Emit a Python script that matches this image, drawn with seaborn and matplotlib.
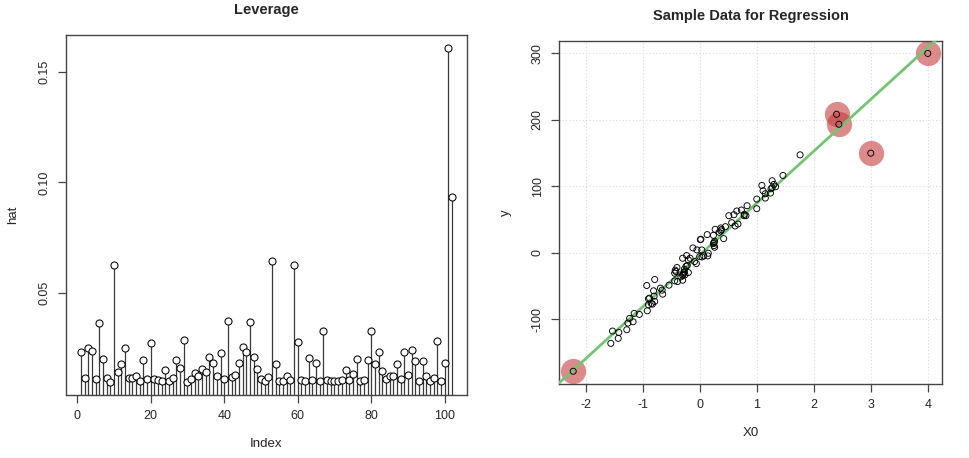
import numpy as np
import pandas as pd
import matplotlib
matplotlib.use("Agg")
import matplotlib.pyplot as plt
import seaborn as sns

hat = [0.0232, 0.0114, 0.0249, 0.0235, 0.0107, 0.0361, 0.0199, 0.0111, 0.0096, 0.0626,
       0.0141, 0.0175, 0.0249, 0.0111, 0.0114, 0.0122, 0.0100, 0.0193, 0.0108, 0.0273,
       0.0108, 0.0105, 0.0098, 0.0149, 0.0100, 0.0114, 0.0194, 0.0158, 0.0284, 0.0096,
       0.0108, 0.0137, 0.0123, 0.0152, 0.0138, 0.0209, 0.0179, 0.0123, 0.0227, 0.0110,
       0.0373, 0.0117, 0.0126, 0.0182, 0.0253, 0.0229, 0.0368, 0.0209, 0.0152, 0.0107,
       0.0100, 0.0119, 0.0644, 0.0175, 0.0100, 0.0100, 0.0123, 0.0105, 0.0626, 0.0278,
       0.0105, 0.0099, 0.0202, 0.0102, 0.0179, 0.0100, 0.0324, 0.0105, 0.0100, 0.0098,
       0.0098, 0.0102, 0.0150, 0.0102, 0.0129, 0.0197, 0.0098, 0.0102, 0.0194, 0.0328,
       0.0175, 0.0231, 0.0143, 0.0107, 0.0123, 0.0123, 0.0178, 0.0110, 0.0231, 0.0128,
       0.0241, 0.0188, 0.0098, 0.0190, 0.0123, 0.0099, 0.0111, 0.0281, 0.0100, 0.0179,
       0.1609, 0.0934]
index = list(range(1, len(hat) + 1))

# sample data for the regression (right panel)
x0 = [1.76, 1.46, 1.33, 1.30, 1.27, 1.25, 1.24, 1.15, 1.15, 1.11,
      1.09, 1.00, 1.00, 0.83, 0.81, 0.78, 0.73, 0.65, 0.60, 0.56,
      0.51, 0.67, 0.62, 0.45, 0.42, 0.37, 0.37, 0.34, 0.27, 0.24,
      0.26, 0.24, 0.25, 0.26, 0.13, 0.01, 0.02, 0.15, 0.14, 0.07,
      0.035, -0.05, -0.12, 0.00, -0.06, -0.09, -0.17, -0.23, -0.30, -0.20,
      -0.22, -0.20, -0.27, -0.29, -0.30, -0.30, -0.27, -0.40, -0.42, -0.44,
      -0.39, -0.44, -0.54, -0.69, -0.65, -0.79, -0.81, -0.80, -0.79, -0.83,
      -0.88, -0.90, -0.90, -0.93, -0.92, -1.06, -1.15, -1.23, -1.17, -1.26,
      -1.28, -1.42, -1.53, -1.43, -1.56, 0.25, 0.38, 0.78, -0.28, -0.26,
      -0.33, -0.43, -0.85, -0.66, 0.04, 1.27, -0.24,
      -2.22, 2.40, 2.44, 3.00, 4.00]
y = [147.5, 116.5, 99.5, 103, 108.5, 96.5, 90, 89, 82.5, 93.5,
     101.5, 81, 66.5, 71, 56, 56, 64.5, 63, 57.5, 45.5,
     56, 43.5, 40.5, 39.5, 21.5, 37.5, 33, 31, 35.5, 26.5,
     17.5, 14, 11, 8.5, 27.5, 20, 20.5, -0.5, -4.5, -4.5,
     4.5, 4.5, 7.5, -5.5, -16, -13, -8, -4, -8, -10.5,
     -19, -29.5, -28.5, -32, -34, -41, -24.5, -22, -28, -30.5,
     -43, -42, -48.5, -53, -62, -40, -57, -65, -73, -77,
     -68, -69, -78, -49, -87, -92.5, -91, -98.5, -103.5, -105.5,
     -115.5, -119.5, -117.5, -128.5, -136, 15.5, 35, 58, -30, -33,
     -36, -26, -76, -56, -6, 98, -20,
     -178, 208.5, 193.5, 150, 300]
# points flagged with a red disc
flagged = [97, 98, 99, 100, 101]

line_intercept = -3.0
line_slope = 78.0

lev = pd.DataFrame({"Index": index, "hat": hat})
reg = pd.DataFrame({"X0": x0, "y": y})
hi = reg.iloc[flagged]

sns.set_style("white")
plt.rcParams["font.family"] = ["Liberation Sans", "DejaVu Sans"]
plt.rcParams["axes.unicode_minus"] = False


def r_lim(v):
    lo, hi_ = min(v), max(v)
    d = (hi_ - lo) * 0.04
    return lo - d, hi_ + d


fig = plt.figure(figsize=(9.69, 4.58), dpi=100)
ax1 = fig.add_axes([0.0681, 0.1376, 0.4138, 0.786])
ax2 = fig.add_axes([0.5769, 0.1616, 0.3952, 0.7495])

# --- Leverage ---
ax1.vlines(lev["Index"], 0, lev["hat"], color="#3a3a3a", lw=0.9)
sns.scatterplot(x="Index", y="hat", data=lev, ax=ax1, s=26, marker="o",
                facecolor="white", edgecolor="black", linewidth=0.75, zorder=3)
ax1.set_xlim(r_lim(index))
ax1.set_ylim(r_lim(hat))
ax1.set_xticks([0, 20, 40, 60, 80, 100])
ax1.set_yticks([0.05, 0.10, 0.15])
ax1.set_yticklabels(["0.05", "0.10", "0.15"])
ax1.set_title("Leverage", fontsize=10.5, fontweight="bold", pad=15)
ax1.set_xlabel("Index", fontsize=9.5, labelpad=11)
ax1.set_ylabel("hat", fontsize=9.5, labelpad=14)

# --- Regression sample ---
ax2.set_xlim(r_lim(x0))
ax2.set_ylim(r_lim(y))
ax2.set_xticks([-2, -1, 0, 1, 2, 3, 4])
ax2.set_yticks([-100, 0, 100, 200, 300])
ax2.grid(True, color="#d8d8d8", linestyle=(0, (1, 2)), lw=0.8)
ax2.set_axisbelow(True)
sns.scatterplot(x="X0", y="y", data=hi, ax=ax2, s=330, color=(0.78, 0.24, 0.24),
                alpha=0.6, linewidth=0, zorder=2)
ax2.axline((0, line_intercept), slope=line_slope, color="#74c474", lw=2, zorder=3)
sns.scatterplot(x="X0", y="y", data=reg, ax=ax2, s=19, marker="o",
                facecolor="none", edgecolor="black", linewidth=0.65, zorder=4)
ax2.set_title("Sample Data for Regression", fontsize=10.5, fontweight="bold", pad=15)
ax2.set_xlabel("X0", fontsize=9.5, labelpad=11)
ax2.set_ylabel("y", fontsize=9.5, labelpad=14)

for ax in (ax1, ax2):
    for sp in ax.spines.values():
        sp.set_visible(True)
        sp.set_color("#444444")
        sp.set_linewidth(1.0)
    ax.tick_params(axis="both", direction="out", length=6, width=0.9,
                   color="#444444", labelsize=9, pad=5,
                   bottom=True, left=True, top=False, right=False)
    plt.setp(ax.get_yticklabels(), rotation=90, va="center")

fig.savefig("out.png", dpi=100)
